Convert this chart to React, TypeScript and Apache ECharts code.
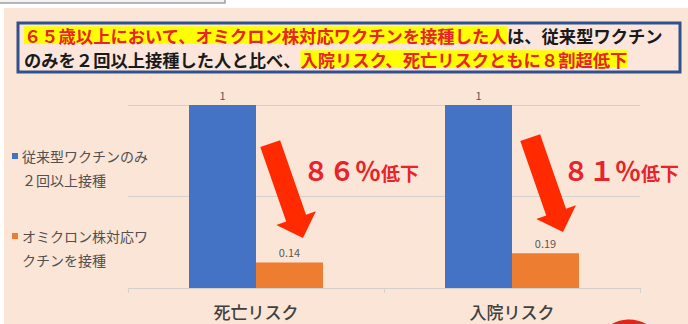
import React, { useEffect, useRef } from "react";
import * as echarts from "echarts";

const categories = ["死亡リスク", "入院リスク"];
const seriesNames = ["従来型ワクチンのみ２回以上接種", "オミクロン株対応ワクチンを接種"];
const legendLines = [
  ["従来型ワクチンのみ", "２回以上接種"],
  ["オミクロン株対応ワ", "クチンを接種"],
];
const conventionalValues = [1, 1];
const omicronValues = [0.14, 0.19];
const reductionLabels = ["８６％", "８１％"];
const colors = ["#4472c4", "#ed7d31"];

const FONT = '"Noto Sans CJK JP", "Noto Sans", sans-serif';
const RED = "#e8232a";
const ARROW = "#ff2a00";

function arrowPoints(tipX: number, tipY: number) {
  const ux = 0.328, uy = 0.944;
  const px = 0.944, py = -0.328;
  const len = 100, headLen = 21, headHalf = 21, shaftHalf = 10.5;
  const bx = tipX - ux * headLen, by = tipY - uy * headLen;
  const tx = tipX - ux * len, ty = tipY - uy * len;
  return [
    [tx - px * shaftHalf, ty - py * shaftHalf],
    [tx + px * shaftHalf, ty + py * shaftHalf],
    [bx + px * shaftHalf, by + py * shaftHalf],
    [bx + px * headHalf, by + py * headHalf],
    [tipX, tipY],
    [bx - px * headHalf, by - py * headHalf],
    [bx - px * shaftHalf, by - py * shaftHalf],
  ];
}

export default function App() {
  const ref = useRef<HTMLDivElement>(null);
  useEffect(() => {
    if (!ref.current) return;
    const chart = echarts.init(ref.current, null, { renderer: "svg" });
    const titleRich = {
      r: { fill: RED, backgroundColor: "#ffff00", fontSize: 17.3, fontWeight: "bold", fontFamily: FONT, lineHeight: 20 },
      k: { fill: "#1a1a1a", fontSize: 17.3, fontWeight: "bold", fontFamily: FONT, lineHeight: 20 },
    };
    const graphic: any[] = [
      { type: "rect", shape: { x: 0, y: 0, width: 688, height: 8 }, style: { fill: "#ffffff" }, z: -5, silent: true },
      { type: "rect", shape: { x: 0, y: 0, width: 4, height: 324 }, style: { fill: "#ffffff" }, z: -5, silent: true },
      { type: "rect", shape: { x: -2, y: -10, width: 227, height: 13 }, style: { fill: "#f2f2f2", stroke: "#a0a0a0", lineWidth: 1.5 }, z: -4, silent: true },
      { type: "rect", shape: { x: 18, y: 23, width: 662, height: 49 }, style: { fill: "#fce6dc", stroke: "#2f528f", lineWidth: 3 }, z: -3, silent: true },
      {
        type: "text", x: 24, y: 35, z: 5,
        style: { text: "{r|６５歳以上において、オミクロン株対応ワクチンを接種した人}{k|は、従来型ワクチン}", rich: titleRich, verticalAlign: "middle" },
      },
      {
        type: "text", x: 24, y: 59, z: 5,
        style: { text: "{k|のみを２回以上接種した人と比べ、}{r|入院リスク、死亡リスクともに８割超低下}", rich: titleRich, verticalAlign: "middle" },
      },
      { type: "circle", shape: { cx: 629, cy: 355, r: 33 }, style: { fill: "none", stroke: "#e0251b", lineWidth: 5 }, z: 5, silent: true },
    ];
    const legendTops = [156, 236];
    legendLines.forEach((lines, i) => {
      graphic.push({ type: "rect", shape: { x: 12, y: legendTops[i] - 3, width: 6, height: 6 }, style: { fill: colors[i] }, z: 5 });
      graphic.push({
        type: "text", x: 22, y: legendTops[i] - 11.5, z: 5,
        style: { text: lines.join("\n"), fontSize: 14, lineHeight: 23.5, fill: "#505050", fontFamily: FONT, verticalAlign: "top" },
      });
    });
    const tips = [[303, 238], [563, 232]];
    const textX = [303, 563];
    tips.forEach((t, i) => {
      graphic.push({ type: "polygon", shape: { points: arrowPoints(t[0], t[1]) }, style: { fill: ARROW }, z: 10 });
      graphic.push({
        type: "text", x: textX[i], y: 167, z: 10,
        style: {
          text: `{a|${reductionLabels[i]}}{b|低下}`,
          verticalAlign: "middle",
          rich: {
            a: { fontSize: 26, fontWeight: "bold", fill: RED, fontFamily: FONT, verticalAlign: "bottom", lineHeight: 30 },
            b: { fontSize: 19, fontWeight: "bold", fill: RED, fontFamily: FONT, verticalAlign: "bottom", lineHeight: 27 },
          },
        },
      });
    });

    chart.setOption({
      animation: false,
      backgroundColor: "#fbe5d6",
      grid: { left: 128, right: 48, top: 105, bottom: 36, containLabel: false },
      xAxis: {
        type: "category",
        data: categories,
        axisLine: { lineStyle: { color: "#d6d0cc" } },
        axisTick: { show: true, length: 5, lineStyle: { color: "#d6d0cc" } },
        axisLabel: { fontSize: 17, color: "#404040", fontFamily: FONT, margin: 15, fontWeight: 500 },
      },
      yAxis: {
        type: "value",
        min: 0,
        max: 1,
        interval: 0.5,
        axisLabel: { show: false },
        axisLine: { show: false },
        axisTick: { show: false },
        splitLine: { lineStyle: { color: "#d6d0cc", width: 1 } },
      },
      series: [
        {
          name: seriesNames[0], type: "bar", data: conventionalValues, barWidth: 67, barGap: "0%",
          itemStyle: { color: colors[0] },
          label: { show: true, position: "top", distance: 5, fontSize: 11, color: "#595959", fontFamily: FONT },
        },
        {
          name: seriesNames[1], type: "bar", data: omicronValues, barWidth: 67, barGap: "0%",
          itemStyle: { color: colors[1] },
          label: { show: true, position: "top", distance: 5, fontSize: 11, color: "#595959", fontFamily: FONT },
        },
      ],
      graphic,
    });
    return () => chart.dispose();
  }, []);
  return <div ref={ref} style={{ position: "fixed", left: 0, top: 0, width: 688, height: 324 }} />;
}
